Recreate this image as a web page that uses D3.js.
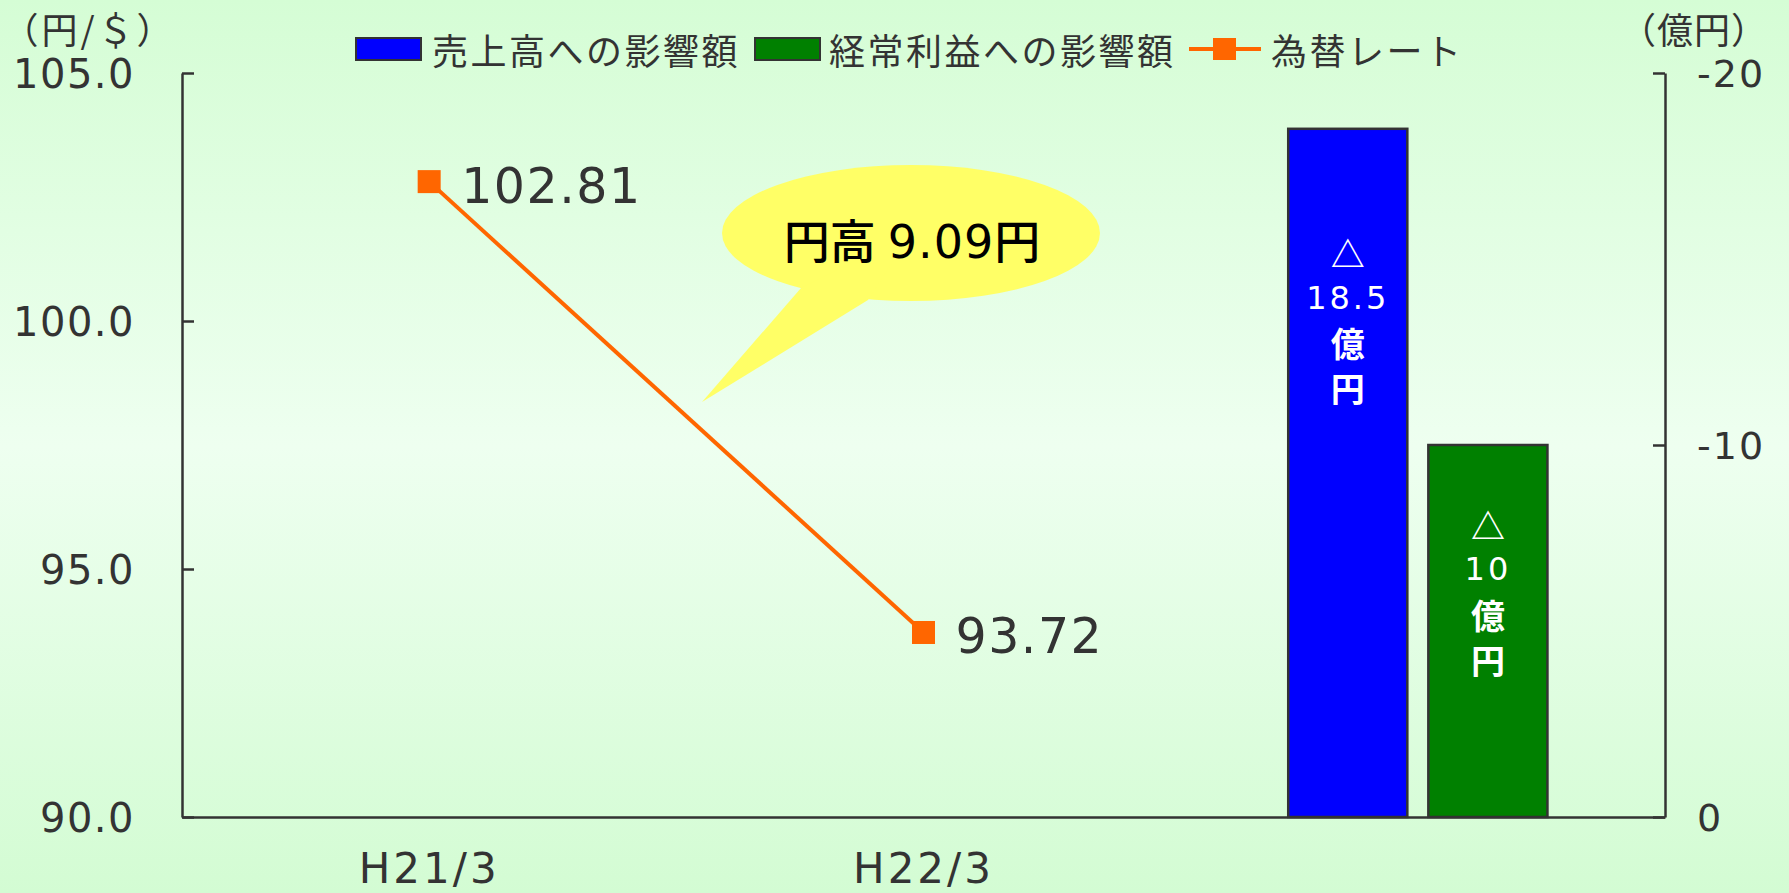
<!DOCTYPE html>
<html>
<head>
<meta charset="utf-8">
<script src="https://cdnjs.cloudflare.com/ajax/libs/d3/7.8.5/d3.min.js"></script>
<style>
  html, body { margin: 0; padding: 0; overflow: hidden; }
  svg { display: block; }
</style>
</head>
<body>
<svg id="chart" width="1789" height="893"></svg>
<script>
// ---- data ----
const categories = ["H21/3", "H22/3", ""];
const rateCategories = ["H21/3", "H22/3"];
const rateValues = [102.81, 93.72];
const impactCategory = "";
const seriesNames = ["売上高への影響額", "経常利益への影響額", "為替レート"];
const impactKeys = ["sales", "profit"];
const impactValues = [-18.5, -10];
const impactLabels = [["△", "18.5", "億", "円"], ["△", "10", "億", "円"]];
const leftTicks = [90, 95, 100, 105];
const rightTicks = [0, -10, -20];
const leftTitle = "（円/＄）";
const rightTitle = "（億円）";
const calloutText = ["円高", "9.09", "円"];

// ---- layout ----
const W = 1789, H = 893;
const plot = { left: 182, right: 1665, top: 73, bottom: 817 };
const colors = { sales: "#0000FF", profit: "#008000", rate: "#FF6600", axis: "#333333" };
const numFont = "'DejaVu Sans', 'Noto Sans CJK JP', sans-serif";
const cjkFont = "'Noto Sans CJK JP', 'DejaVu Sans', sans-serif";

const svg = d3.select("#chart");

// background gradient
const defs = svg.append("defs");
const grad = defs.append("linearGradient").attr("id", "bg").attr("x1", 0).attr("y1", 0).attr("x2", 0).attr("y2", 1);
grad.append("stop").attr("offset", "0%").attr("stop-color", "#d5fdd5");
grad.append("stop").attr("offset", "50%").attr("stop-color", "#eefff0");
grad.append("stop").attr("offset", "100%").attr("stop-color", "#d3fcd3");
svg.append("rect").attr("width", W).attr("height", H).attr("fill", "url(#bg)");

// scales
const x = d3.scaleBand().domain(categories).range([plot.left, plot.right]).padding(0);
const yL = d3.scaleLinear().domain([90, 105]).range([plot.bottom, plot.top]);
const yR = d3.scaleLinear().domain([0, -20]).range([plot.bottom, plot.top]);
const xSub = d3.scaleBand().domain(impactKeys)
  .range([x(impactCategory), x(impactCategory) + x.bandwidth()])
  .paddingInner(0.15).paddingOuter(0.839);

// bars
const barData = impactKeys.map((k, i) => ({ key: k, value: impactValues[i], label: impactLabels[i] }));
svg.append("g").selectAll("rect").data(barData).join("rect")
  .attr("x", d => xSub(d.key))
  .attr("y", d => yR(d.value))
  .attr("width", xSub.bandwidth())
  .attr("height", d => yR(0) - yR(d.value))
  .attr("fill", d => colors[d.key])
  .attr("stroke", "#333")
  .attr("stroke-width", 2.5);

// bar labels
const labelStartOffset = { sales: 124, profit: 79 };
const labelLineH = 45;
barData.forEach(d => {
  const cx = xSub(d.key) + xSub.bandwidth() / 2;
  const y0 = yR(d.value) + labelStartOffset[d.key];
  d.label.forEach((t, j) => {
    const isNum = /[0-9]/.test(t);
    svg.append("text")
      .attr("x", cx).attr("y", y0 + j * labelLineH)
      .attr("text-anchor", "middle").attr("dominant-baseline", "central")
      .attr("fill", "#fff")
      .attr("font-family", isNum ? numFont : cjkFont)
      .attr("font-size", isNum ? 32 : 34)
      .attr("font-weight", isNum ? "normal" : "bold")
      .attr("letter-spacing", isNum ? 3 : 0)
      .text(t);
  });
});

// axes
const axisL = svg.append("g").attr("transform", `translate(${plot.left},0)`)
  .call(d3.axisLeft(yL).tickValues(leftTicks).tickSizeInner(-12).tickSizeOuter(0).tickPadding(47).tickFormat(d3.format(".1f")));
const axisR = svg.append("g").attr("transform", `translate(${plot.right},0)`)
  .call(d3.axisRight(yR).tickValues(rightTicks).tickSizeInner(-12).tickSizeOuter(0).tickPadding(32).tickFormat(d => String(d)));
const axisB = svg.append("g").attr("transform", `translate(0,${plot.bottom})`)
  .call(d3.axisBottom(x).tickSize(0).tickPadding(36));
axisB.selectAll(".tick").filter(d => d === "").remove();

[axisL, axisR, axisB].forEach(g => {
  g.select(".domain").attr("stroke", colors.axis).attr("stroke-width", 2.5);
  g.selectAll(".tick line").attr("stroke", colors.axis).attr("stroke-width", 2.5);
  g.selectAll(".tick text").attr("fill", colors.axis).attr("font-family", numFont);
});
axisL.selectAll(".tick text").attr("font-size", 40).attr("letter-spacing", 1.5).attr("dy", "0.36em");
axisR.selectAll(".tick text").attr("font-size", 38).attr("letter-spacing", 2).attr("dy", "0.36em");
axisB.selectAll(".tick text").attr("font-size", 42).attr("letter-spacing", 3).attr("dy", "0.71em");

// axis titles
svg.append("text").attr("x", 89).attr("y", 28).attr("text-anchor", "middle").attr("dominant-baseline", "central")
  .attr("font-family", cjkFont).attr("font-size", 36).attr("letter-spacing", 3).attr("fill", colors.axis).text(leftTitle);
svg.append("text").attr("x", 1694).attr("y", 28).attr("text-anchor", "middle").attr("dominant-baseline", "central")
  .attr("font-family", cjkFont).attr("font-size", 36).attr("letter-spacing", 1).attr("fill", colors.axis).text(rightTitle);

// callout
const ell = { cx: 911, cy: 233, rx: 189, ry: 68 };
const tail = [[801, 288], [702, 402], [868, 300]];
svg.append("ellipse").attr("cx", ell.cx).attr("cy", ell.cy).attr("rx", ell.rx).attr("ry", ell.ry).attr("fill", "#FFFF66");
svg.append("path").attr("d", d3.line()(tail.concat([[ell.cx, ell.cy]]))).attr("fill", "#FFFF66");
const ct = svg.append("text").attr("x", 912).attr("y", 258).attr("text-anchor", "middle")
  .attr("font-size", 46).attr("fill", "#000");
ct.append("tspan").attr("font-family", cjkFont).attr("font-weight", "500").text(calloutText[0]);
ct.append("tspan").attr("font-family", numFont).attr("dx", 12).attr("letter-spacing", 1).text(calloutText[1]);
ct.append("tspan").attr("font-family", cjkFont).attr("font-weight", "500").text(calloutText[2]);

// line
const rateData = rateCategories.map((c, i) => ({ cat: c, value: rateValues[i] }));
const px = d => x(d.cat) + x.bandwidth() / 2;
svg.append("path")
  .attr("d", d3.line().x(px).y(d => yL(d.value))(rateData))
  .attr("fill", "none").attr("stroke", colors.rate).attr("stroke-width", 4);
svg.append("g").selectAll("rect").data(rateData).join("rect")
  .attr("x", d => px(d) - 11.5).attr("y", d => yL(d.value) - 11.5)
  .attr("width", 23).attr("height", 23).attr("fill", colors.rate);
svg.append("g").selectAll("text").data(rateData).join("text")
  .attr("x", d => px(d) + 32).attr("y", d => yL(d.value) + 21)
  .attr("font-family", numFont).attr("font-size", 49).attr("letter-spacing", 1.5).attr("fill", colors.axis)
  .text(d => d3.format(".2f")(d.value));

// legend
const legend = svg.append("g");
const legendItems = [
  { name: seriesNames[0], type: "rect", color: colors.sales, x0: 356, tx: 432 },
  { name: seriesNames[1], type: "rect", color: colors.profit, x0: 755, tx: 829 },
  { name: seriesNames[2], type: "line", color: colors.rate, x0: 1189, tx: 1271 }
];
const ly = 49;
legendItems.forEach(it => {
  if (it.type === "rect") {
    legend.append("rect").attr("x", it.x0).attr("y", ly - 11).attr("width", 65).attr("height", 22)
      .attr("fill", it.color).attr("stroke", "#333").attr("stroke-width", 2);
  } else {
    legend.append("line").attr("x1", it.x0).attr("x2", it.x0 + 72).attr("y1", ly).attr("y2", ly)
      .attr("stroke", it.color).attr("stroke-width", 4);
    legend.append("rect").attr("x", it.x0 + 24).attr("y", ly - 11).attr("width", 23).attr("height", 22).attr("fill", it.color);
  }
  legend.append("text").attr("x", it.tx).attr("y", ly).attr("dominant-baseline", "central")
    .attr("font-family", cjkFont).attr("font-size", 36).attr("letter-spacing", 2.5).attr("fill", colors.axis)
    .text(it.name);
});
</script>
</body>
</html>
